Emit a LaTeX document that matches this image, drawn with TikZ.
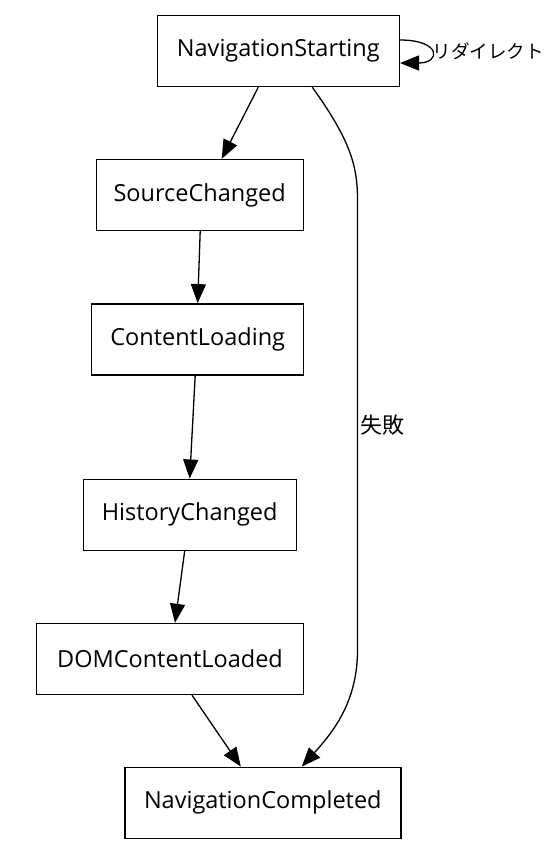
\documentclass[tikz,border=0pt]{standalone}
\usepackage{fontspec}
\setmainfont{Open Sans}
\newfontfamily\jpfont[CharacterWidth=Proportional]{Noto Sans CJK JP}
\usepackage{tikz}
\usetikzlibrary{positioning,arrows.meta}

\begin{document}
\begin{tikzpicture}[x=1pt, y=-1pt,
  every node/.style = {font=\fontsize{23.5}{26}\selectfont},
  event/.style = {shape=rectangle, draw, line width=1.4pt,
    minimum height=71pt, inner sep=0pt},
  edge/.style = {line width=1.3pt, -{Triangle[length=19pt,width=15pt]}},
  tag/.style = {font=\jpfont\fontsize{22}{24}\selectfont, inner sep=2pt}]
  \useasboundingbox (0,0) rectangle (551,853);
  \node[event, minimum width=242pt] (navstart) at (278.3,51) {NavigationStarting};
  \node[event, minimum width=207pt] (srcchg) at (199.7,195) {SourceChanged};
  \node[event, minimum width=212pt] (cntload) at (197.7,339.3) {ContentLoading};
  \node[event, minimum width=213pt] (histchg) at (189.7,514.7) {HistoryChanged};
  \node[event, minimum width=267pt] (domload) at (170,659) {DOMContentLoaded};
  \node[event, minimum width=276pt] (navdone) at (262.8,802.8) {NavigationCompleted};
  % main chain
  \draw[edge] ([xshift=-20pt]navstart.south) -- ([xshift=22pt]srcchg.north);
  \draw[edge] ([xshift=0.5pt]srcchg.south) -- (cntload.north);
  \draw[edge] ([xshift=-2.5pt]cntload.south) -- (histchg.north);
  \draw[edge] ([xshift=-5pt]histchg.south) -- ([xshift=5pt]domload.north);
  \draw[edge] ([xshift=22pt]domload.south) -- ([xshift=-22pt]navdone.north);
  % failure branch
  \coordinate (bendtop) at (357.5,200);
  \coordinate (bendbot) at (357.5,650);
  \draw[edge] ([xshift=34pt]navstart.south) .. controls (350,140) and (357.5,165) .. (bendtop)
    -- node[tag, right] {失敗} (bendbot)
    .. controls (357.5,700) and (335,730) .. ([xshift=39pt]navdone.north);
  % redirect loop
  \draw[edge] ([yshift=11pt]navstart.east) to[out=0, in=0, looseness=4.6]
    node[tag, right, font=\jpfont\fontsize{18.5}{20}\selectfont, inner sep=1pt] {リダイレクト}
    ([yshift=-12pt]navstart.east);
\end{tikzpicture}
\end{document}
